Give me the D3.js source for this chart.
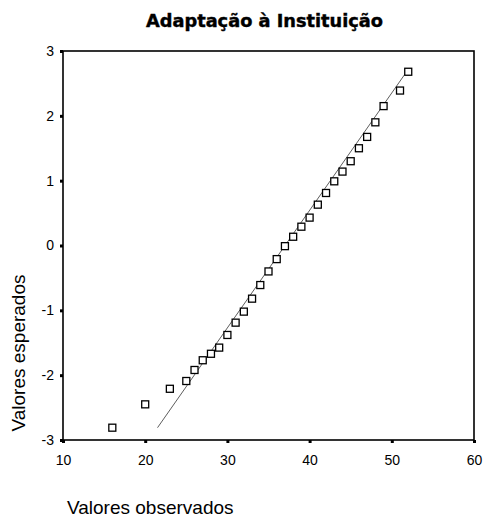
<!DOCTYPE html>
<html>
<head>
<meta charset="utf-8">
<script src="https://cdn.jsdelivr.net/npm/d3@7"></script>
<style>
  html, body { margin: 0; padding: 0; background: #fff; }
  svg { display: block; }
</style>
</head>
<body>
<div id="chart"></div>
<script>
// Normal Q-Q plot: observed scores vs. expected normal values
const chartTitle = "Adaptação à Instituição";
const xTitle = "Valores observados";
const yTitle = "Valores esperados";

const observed = [16, 20, 23, 25, 26, 27, 28, 29, 30, 31, 32, 33, 34, 35, 36,
                  37, 38, 39, 40, 41, 42, 43, 44, 45, 46, 47, 48, 49, 51, 52];
const expected = [-2.81, -2.45, -2.21, -2.09, -1.92, -1.77, -1.67, -1.575, -1.38, -1.19,
                  -1.02, -0.82, -0.61, -0.40, -0.21, -0.01, 0.135, 0.29, 0.43, 0.63,
                  0.81, 0.99, 1.14, 1.30, 1.50, 1.675, 1.90, 2.15, 2.39, 2.68];

// reference line of the normal distribution (end points)
const refLineX = [21.5, 51.8];
const refLineY = [-2.81, 2.68];

const xTicks = [10, 20, 30, 40, 50, 60];
const yTicks = [-3, -2, -1, 0, 1, 2, 3];

const W = 485, H = 520;
const plot = { left: 63, right: 474, top: 51, bottom: 440 };

const svg = d3.select("#chart").append("svg")
  .attr("width", W).attr("height", H);

svg.append("rect").attr("width", W).attr("height", H).attr("fill", "#fff");

const x = d3.scaleLinear().domain([10, 60]).range([plot.left, plot.right]);
const y = d3.scaleLinear().domain([-3, 3]).range([plot.bottom, plot.top]);

// title
svg.append("text")
  .attr("x", 264.5).attr("y", 27)
  .attr("text-anchor", "middle")
  .attr("font-family", "DejaVu Sans")
  .attr("font-weight", "bold")
  .attr("font-size", 17)
  .attr("textLength", 237)
  .attr("lengthAdjust", "spacingAndGlyphs")
  .attr("stroke", "#000")
  .attr("stroke-width", 0.4)
  .attr("fill", "#000")
  .text(chartTitle);

// frame
svg.append("rect")
  .attr("x", plot.left).attr("y", plot.top)
  .attr("width", plot.right - plot.left)
  .attr("height", plot.bottom - plot.top)
  .attr("fill", "none")
  .attr("stroke", "#000")
  .attr("stroke-width", 1.6);

// axes
const plain = d => String(d);
const xAxis = d3.axisBottom(x).tickValues(xTicks).tickFormat(plain).tickSize(3).tickPadding(9);
const yAxis = d3.axisLeft(y).tickValues(yTicks).tickFormat(plain).tickSize(3).tickPadding(6);

const gx = svg.append("g")
  .attr("transform", `translate(0,${plot.bottom})`)
  .call(xAxis);
const gy = svg.append("g")
  .attr("transform", `translate(${plot.left},0)`)
  .call(yAxis);

[gx, gy].forEach(g => {
  g.select(".domain").remove();
  g.selectAll(".tick line").attr("stroke", "#000").attr("stroke-width", 3);
  g.selectAll(".tick text")
    .attr("font-family", "Liberation Sans, Arial, sans-serif")
    .attr("font-size", 14)
    .attr("fill", "#000");
});
gx.selectAll(".tick text").attr("dy", "0.9em");

// reference line
svg.append("line")
  .attr("x1", x(refLineX[0])).attr("y1", y(refLineY[0]))
  .attr("x2", x(refLineX[1])).attr("y2", y(refLineY[1]))
  .attr("stroke", "#333")
  .attr("stroke-width", 0.8);

// points (hollow squares)
const s = 7;
svg.append("g")
  .selectAll("rect")
  .data(observed.map((v, i) => [v, expected[i]]))
  .join("rect")
  .attr("x", d => x(d[0]) - s / 2)
  .attr("y", d => y(d[1]) - s / 2)
  .attr("width", s).attr("height", s)
  .attr("fill", "#fff")
  .attr("stroke", "#000")
  .attr("stroke-width", 1.3);

// axis titles
svg.append("text")
  .attr("x", 67).attr("y", 514)
  .attr("font-family", "Liberation Sans, Arial, sans-serif")
  .attr("font-size", 19)
  .attr("fill", "#000")
  .text(xTitle);

svg.append("text")
  .attr("transform", "translate(25,353) rotate(-90)")
  .attr("text-anchor", "middle")
  .attr("font-family", "Liberation Sans, Arial, sans-serif")
  .attr("font-size", 19)
  .attr("fill", "#000")
  .text(yTitle);
</script>
</body>
</html>
